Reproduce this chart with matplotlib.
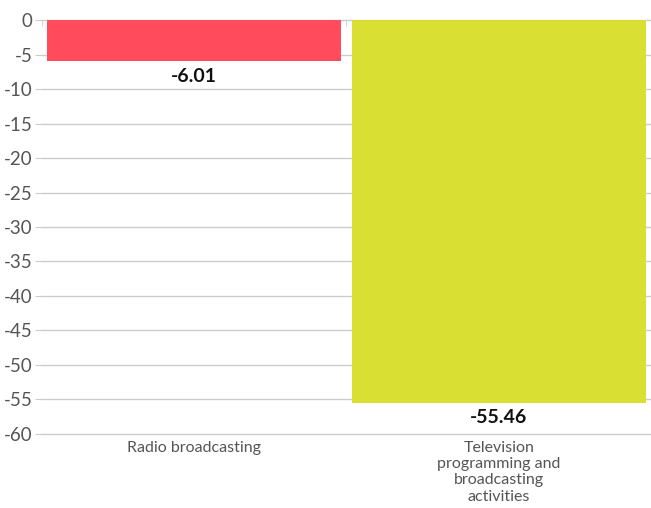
import matplotlib.pyplot as plt
import numpy as np

categories = ["Radio broadcasting", "Television\nprogramming and\nbroadcasting\nactivities"]
values = [-6.01, -55.46]
colors = ["#ff4b5c", "#d9e033"]
yticks = list(range(0, -65, -5))

plt.rcParams['font.family'] = ['Lato', 'DejaVu Sans']

fig = plt.figure(figsize=(6.51, 5.08), dpi=100)
ax = fig.add_axes([0.0645, 0.1457, 0.9355, 0.8149])

x = np.arange(len(categories))
bars = ax.bar(x, values, width=0.965, color=colors, zorder=3)

for xi, v in zip(x, values):
    ax.annotate(f"{v:.2f}", (xi, v), xytext=(0, -11), textcoords="offset points",
                ha="center", va="center", fontsize=14, fontweight="bold", color="#111111")

ax.set_xlim(-0.5, len(categories) - 0.5)
ax.set_ylim(-60, 0)
ax.set_yticks(yticks)
ax.set_yticklabels([str(t) for t in yticks], fontsize=13.5, color="#555555")
ax.set_xticks(x)
ax.set_xticklabels(categories, fontsize=11.5, color="#555555", linespacing=1.2, va="top")
ax.set_xticks(np.arange(-0.5, len(categories)), minor=True)

ax.grid(axis="y", color="#cccccc", linewidth=1, zorder=0)
for gl in ax.get_ygridlines():
    gl.set_clip_on(False)
for s in ax.spines.values():
    s.set_visible(False)
ax.tick_params(axis="y", length=5, color="#cccccc", pad=2)
ax.tick_params(axis="x", which="major", length=0, pad=5)
ax.tick_params(axis="x", which="minor", bottom=False, top=True, direction="in", length=4, color="#cccccc")

fig.savefig("out.png", dpi=100)
